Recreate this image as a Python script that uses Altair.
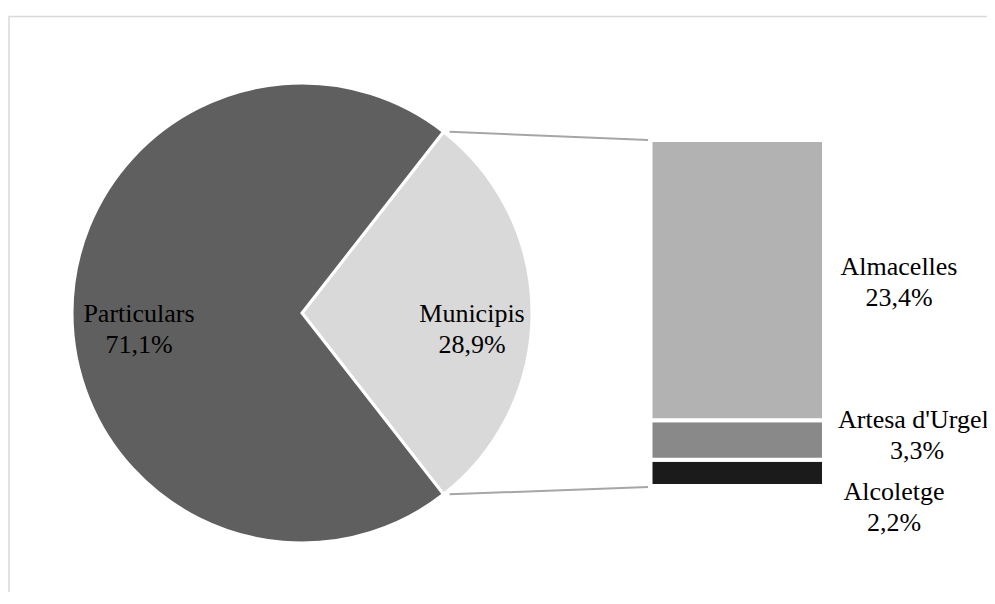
import math
import altair as alt
import pandas as pd

# ---- data ----
pie_labels = ["Municipis", "Particulars"]
pie_values = [28.9, 71.1]
pie_text = ["Municipis\n28,9%", "Particulars\n71,1%"]
pie_colors = ["#d9d9d9", "#5f5f5f"]

bar_labels = ["Alcoletge", "Artesa d'Urgell", "Almacelles"]  # bottom to top
bar_values = [2.2, 3.3, 23.4]
bar_text = ["Alcoletge\n2,2%", "Artesa d'Urgell\n3,3%", "Almacelles\n23,4%"]
bar_colors = ["#1b1b1b", "#898989", "#b2b2b2"]

# ---- layout ----
W, H = 979, 584
CX, CY, R = 294, 305, 230
FONT = "Liberation Serif"
FS = 26

half = pie_values[0] / 100 * math.pi
start = math.pi / 2 - half

pie_df = pd.DataFrame({"label": pie_labels, "value": pie_values,
                       "order": list(range(len(pie_labels)))})
cum = [sum(bar_values[:i]) for i in range(len(bar_values))]
bar_df = pd.DataFrame({"label": bar_labels, "v0": cum,
                       "v1": [c + v for c, v in zip(cum, bar_values)]})

total_bar = sum(bar_values)
y_range = [478, 132]


def ypix(v):
    return y_range[0] + (y_range[1] - y_range[0]) * v / total_bar


one = pd.DataFrame({"a": [0]})

frame = alt.Chart(one).mark_rect(filled=False, stroke="#d9d9d9", strokeWidth=1.5).encode(
    x=alt.value(1), x2=alt.value(2000), y=alt.value(8.5), y2=alt.value(2000))

pie = alt.Chart(pie_df).mark_arc(radius=R, stroke="white", strokeWidth=3).encode(
    theta=alt.Theta("value:Q", stack=True,
                    scale=alt.Scale(domain=[0, 100], range=[start, start + 2 * math.pi])),
    order=alt.Order("order:Q"),
    color=alt.Color("label:N", scale=alt.Scale(domain=pie_labels, range=pie_colors), legend=None),
    x=alt.value(CX), y=alt.value(CY))

bar = alt.Chart(bar_df).mark_rect(stroke="white", strokeWidth=4).encode(
    x=alt.value(642.5), x2=alt.value(816),
    y=alt.Y("v0:Q", scale=alt.Scale(domain=[0, total_bar], range=y_range), axis=None),
    y2="v1:Q",
    fill=alt.Fill("label:N", scale=alt.Scale(domain=bar_labels, range=bar_colors), legend=None))

px = CX + R * math.cos(half) + 6
py_top = CY - R * math.sin(half)
py_bot = CY + R * math.sin(half)
conn_top = alt.Chart(one).mark_rule(color="#a6a6a6", strokeWidth=2).encode(
    x=alt.value(px), y=alt.value(py_top), x2=alt.value(640), y2=alt.value(ypix(total_bar)))
conn_bot = alt.Chart(one).mark_rule(color="#a6a6a6", strokeWidth=2).encode(
    x=alt.value(px), y=alt.value(py_bot), x2=alt.value(640), y2=alt.value(ypix(0) + 1))


def label(txt, x, y):
    return alt.Chart(one).mark_text(font=FONT, fontSize=FS, lineBreak="\n", lineHeight=31,
                                    align="center", baseline="alphabetic", color="#000000").encode(
        x=alt.value(x), y=alt.value(y), text=alt.value(txt))


labels = [
    label(pie_text[1], 131, 314),
    label(pie_text[0], 464, 314),
    label(bar_text[2], 891, 267),
    label(bar_text[1], 909, 420),
    label(bar_text[0], 886, 492),
]

chart = alt.layer(frame, pie, bar, conn_top, conn_bot, *labels).resolve_scale(
    color="independent", fill="independent").properties(
    width=W, height=H, padding=0, autosize=alt.AutoSizeParams(type="none"),
    background="white").configure_view(stroke=None)

chart.save("out.html", embed_options={"renderer": "svg", "actions": False})
